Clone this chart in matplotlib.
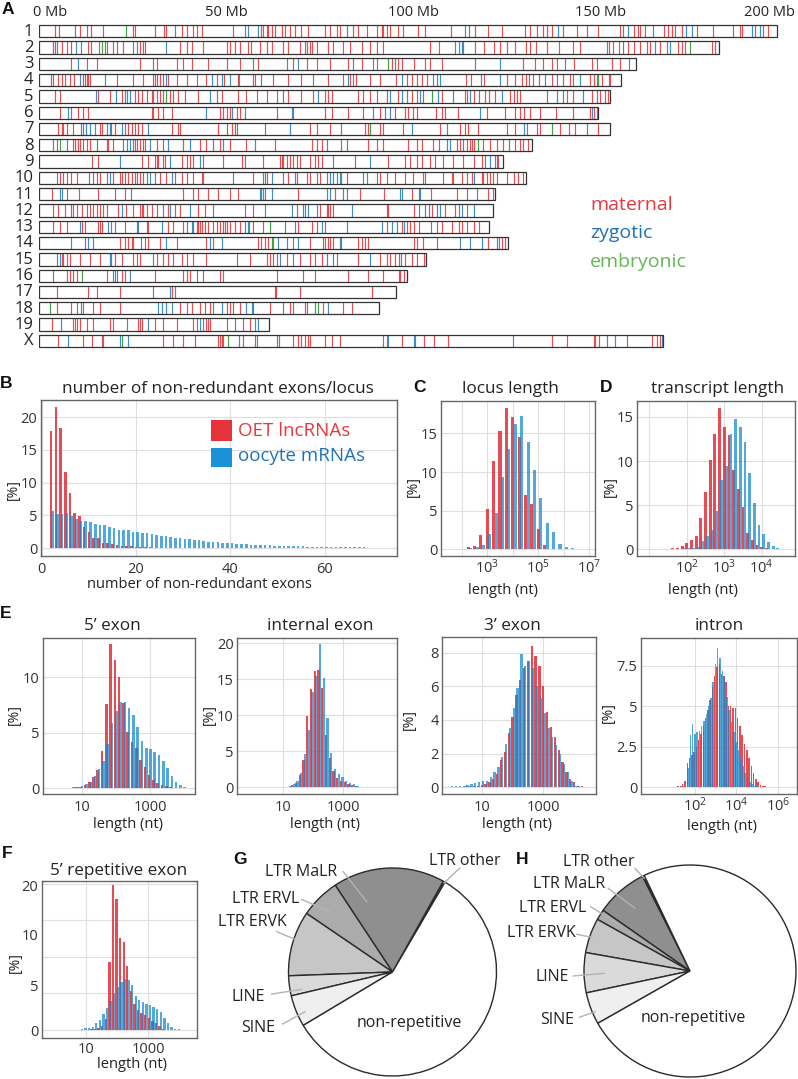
import numpy as np
import matplotlib
matplotlib.use('Agg')
import matplotlib.pyplot as plt
from matplotlib.patches import Rectangle

plt.rcParams['font.family'] = ['Open Sans', 'DejaVu Sans']
plt.rcParams['mathtext.fontset'] = 'custom'
plt.rcParams['mathtext.rm'] = 'Open Sans'
plt.rcParams['mathtext.it'] = 'Open Sans'
plt.rcParams['mathtext.bf'] = 'Open Sans'
plt.rcParams['text.color'] = '#222222'

# ---------------------------------------------------------------- data: panel A
chrom_names = ['1', '2', '3', '4', '5', '6', '7', '8', '9', '10', '11', '12', '13', '14',
               '15', '16', '17', '18', '19', 'X']
chrom_len_mb = [197.2, 181.7, 159.6, 155.6, 152.5, 149.5, 152.5, 131.7, 124.1, 130.0,
                121.8, 121.3, 120.3, 125.2, 103.5, 98.3, 95.3, 90.8, 61.3, 166.7]

chr1_maternal = [4.2, 5.3, 10.9, 12.8, 13.7, 17.1, 25.1, 25.6, 30.9, 33.3, 34.0, 38.1, 39.6, 41.2, 42.1, 43.4, 51.9, 59.2, 59.9, 60.8, 61.2, 62.1, 63.0, 64.8, 65.7, 67.0, 68.4, 70.1, 71.9, 76.4, 77.7, 79.5, 80.4, 84.0, 85.3, 87.5, 90.2, 91.5, 92.0, 92.9, 93.8, 96.0, 97.3, 101.3, 103.1, 110.0, 116.6, 119.9, 123.6, 129.9, 131.2, 133.0, 134.8, 135.7, 137.1, 140.1, 143.7, 146.4, 149.5, 155.3, 158.9, 160.2, 160.6, 162.0, 166.9, 168.2, 169.1, 170.0, 171.8, 175.8, 180.2, 187.4, 187.8, 191.4, 193.6, 194.9]
chr1_zygotic = [9.5, 36.3, 55.0, 55.9, 58.6, 82.2, 113.8, 115.0, 138.7, 156.1, 157.5, 164.2, 173.0, 174.4, 185.6, 190.5, 192.7]
chr1_embryonic = [23.2]
chr2_maternal = [4.2, 4.8, 6.0, 7.3, 8.6, 13.1, 13.7, 16.0, 18.0, 20.7, 22.5, 26.9, 27.8, 28.3, 37.6, 39.4, 40.7, 43.9, 50.1, 51.0, 52.3, 53.7, 55.9, 56.5, 59.0, 60.8, 62.1, 65.2, 66.6, 69.7, 71.0, 72.4, 72.8, 74.2, 77.3, 78.6, 81.3, 83.1, 86.2, 88.4, 90.2, 92.0, 104.5, 106.8, 116.6, 118.9, 121.5, 123.3, 125.1, 127.3, 130.0, 131.3, 132.7, 135.8, 138.9, 142.8, 144.6, 152.2, 153.5, 154.9, 157.5, 158.9, 160.6, 162.4, 163.3, 166.0, 167.8, 170.9, 171.8, 172.7, 179.8, 180.7]
chr2_zygotic = [3.7, 9.8, 11.1, 17.6, 19.8, 25.0, 26.0, 33.8, 71.5, 111.1, 112.2, 112.9, 113.4, 151.7, 156.2, 164.6, 168.7]
chr2_embryonic = [16.7, 174.0]
chr3_maternal = [8.6, 12.8, 15.3, 26.9, 31.4, 36.7, 38.3, 40.7, 45.2, 50.1, 53.7, 58.6, 67.9, 71.5, 74.2, 77.7, 82.6, 86.2, 89.3, 94.2, 96.0, 96.9, 100.1, 103.1, 104.5, 107.6, 129.4, 132.5, 134.8, 137.0, 138.4, 142.9, 147.8, 149.1, 153.1, 155.4]
chr3_zygotic = [10.4, 30.3, 66.1, 69.3, 84.0, 90.2, 95.1, 116.5, 123.2, 140.6, 157.6]
chr3_embryonic = [57.2, 93.3]
chr4_maternal = [3.7, 5.1, 6.0, 6.9, 8.2, 9.3, 11.8, 12.2, 12.7, 13.1, 13.5, 20.7, 25.0, 27.8, 30.3, 30.9, 31.4, 32.3, 33.2, 34.5, 36.7, 39.6, 42.1, 44.7, 47.4, 49.4, 53.2, 57.2, 57.7, 62.6, 66.6, 70.1, 77.3, 81.3, 83.1, 84.0, 84.8, 88.4, 91.1, 95.5, 98.3, 99.6, 101.0, 102.3, 103.6, 114.0, 115.3, 118.9, 125.1, 127.3, 129.1, 130.0, 130.9, 133.6, 137.1, 140.1, 142.0, 142.8, 147.3, 148.2, 149.1, 150.4, 152.2, 152.6]
chr4_zygotic = [10.9, 17.6, 34.0, 46.1, 48.8, 51.0, 53.5, 73.3, 82.6, 96.9, 105.4, 106.3, 107.2, 118.0, 123.3, 132.1, 135.2, 138.4, 144.7]
chr4_embryonic = [3.0, 59.4, 149.5]
chr5_maternal = [4.2, 5.5, 15.8, 18.9, 22.0, 25.6, 26.5, 27.4, 28.7, 30.0, 30.5, 31.4, 32.3, 33.2, 34.9, 35.8, 37.2, 38.9, 42.5, 48.8, 53.2, 55.4, 58.1, 60.8, 63.5, 66.6, 70.1, 73.3, 76.4, 77.3, 78.2, 85.3, 86.6, 88.4, 90.2, 92.9, 96.0, 99.6, 100.9, 102.7, 107.6, 113.8, 114.3, 116.1, 119.3, 120.2, 121.9, 125.9, 126.8, 127.7, 128.6, 141.0, 142.8, 147.7, 150.0, 151.2, 152.1]
chr5_zygotic = [15.2, 20.5, 22.9, 23.4, 24.2, 45.6, 47.4, 65.2, 74.6, 93.8, 96.9, 98.2, 101.8, 106.7, 110.7, 115.2, 117.5, 123.7, 138.4, 140.1, 145.5, 149.0]
chr5_embryonic = [34.0, 105.0, 135.7]
chr6_maternal = [5.5, 8.6, 10.4, 11.8, 13.1, 30.0, 30.5, 31.8, 33.2, 35.4, 48.3, 49.2, 50.1, 51.0, 52.8, 53.7, 63.5, 67.9, 76.4, 78.2, 82.6, 86.6, 91.1, 95.1, 97.8, 98.7, 100.0, 100.9, 106.2, 107.6, 108.5, 112.0, 119.6, 124.5, 127.3, 128.6, 129.5, 131.2, 133.9, 138.1, 142.8, 147.3, 148.2, 149.1]
chr6_zygotic = [7.8, 44.6, 51.4, 55.0, 67.5, 89.3, 92.4, 93.8, 117.8, 147.7]
chr6_embryonic = []
chr7_maternal = [5.1, 6.0, 6.4, 7.3, 9.1, 11.8, 16.2, 16.7, 19.3, 20.2, 22.9, 23.8, 24.7, 25.6, 26.5, 27.4, 35.4, 37.2, 37.6, 47.9, 51.4, 52.3, 72.4, 74.2, 77.7, 87.1, 88.0, 91.1, 92.0, 97.3, 107.1, 112.5, 113.8, 114.7, 117.4, 125.0, 127.3, 130.4, 133.0, 133.9, 139.3, 141.5, 143.3, 149.5]
chr7_zygotic = [11.1, 12.5, 13.5, 14.9, 18.0, 18.9, 22.0, 29.1, 60.3, 67.0, 80.8, 99.6, 129.5, 146.4]
chr7_embryonic = [50.1, 52.8, 88.4, 108.9, 137.0]
chr8_maternal = [4.6, 9.1, 9.5, 10.4, 10.9, 11.8, 12.7, 13.5, 18.0, 18.4, 19.8, 25.6, 26.0, 26.9, 27.8, 28.3, 31.4, 33.2, 38.5, 43.0, 44.7, 48.3, 51.0, 55.4, 63.0, 72.8, 74.2, 75.5, 80.8, 88.0, 90.2, 92.0, 98.7, 100.9, 102.3, 105.4, 106.8, 111.6, 112.5, 114.3, 115.2, 115.7, 116.1, 118.7, 120.5, 122.3, 124.1, 127.2, 128.5, 129.4, 130.8]
chr8_zygotic = [3.7, 7.3, 22.5, 23.4, 24.2, 25.1, 29.6, 34.5, 40.3, 46.5, 49.2, 57.7, 76.8, 82.2, 109.0, 109.9, 113.4]
chr8_embryonic = [5.5, 15.3, 117.2, 125.7]
chr9_maternal = [14.0, 15.8, 27.4, 29.1, 30.9, 31.4, 31.8, 33.2, 33.6, 38.1, 39.4, 40.3, 41.2, 43.9, 49.2, 54.1, 55.0, 59.9, 64.3, 64.8, 65.2, 66.1, 67.0, 67.9, 68.8, 69.7, 72.4, 73.7, 74.6, 75.5, 84.4, 93.3, 97.8, 99.1, 100.9, 102.2, 104.5, 105.8, 108.0, 110.7, 113.4, 116.1, 118.3, 122.7]
chr9_zygotic = [21.7, 34.9, 43.0, 78.6, 88.4, 119.2, 120.5, 121.9, 122.3]
chr9_embryonic = []
chr10_maternal = [5.5, 6.4, 7.3, 8.6, 10.0, 14.4, 15.3, 16.2, 18.0, 19.8, 21.6, 22.0, 22.9, 23.8, 24.7, 26.0, 26.9, 27.8, 32.3, 34.0, 36.3, 38.1, 39.4, 41.2, 43.4, 43.9, 57.2, 60.8, 65.2, 66.6, 68.8, 71.5, 72.4, 75.0, 76.8, 82.2, 90.2, 91.1, 92.9, 95.1, 97.8, 100.0, 102.7, 108.0, 110.3, 110.7, 112.9, 114.3, 115.6, 118.3, 118.7, 119.6, 120.5, 121.4, 122.3, 125.0, 126.8, 128.1, 129.3]
chr10_zygotic = [4.6, 18.9, 25.6, 28.7, 29.6, 30.9, 35.4, 51.9, 59.9, 62.1, 68.4, 77.7, 78.6, 79.5, 80.4, 86.6, 87.5, 116.1]
chr10_embryonic = [13.4, 60.4, 74.2, 80.8, 103.1]
chr11_maternal = [3.3, 7.3, 10.7, 15.8, 20.2, 22.9, 38.3, 41.2, 42.5, 45.2, 47.9, 51.0, 53.2, 69.1, 79.1, 85.7, 92.1, 99.6, 104.6, 111.7, 114.4, 120.1, 121.2]
chr11_zygotic = [5.5, 6.2, 24.4, 59.0, 59.4, 59.9, 60.3, 62.1, 76.8, 77.7, 81.3, 82.2, 96.5, 96.9, 101.4, 101.9, 117.0]
chr11_embryonic = []
chr12_maternal = [3.7, 5.1, 6.9, 8.6, 10.0, 11.3, 13.5, 14.4, 15.3, 16.2, 17.1, 18.0, 21.1, 23.2, 25.1, 26.9, 27.4, 27.8, 28.7, 30.0, 31.4, 34.5, 36.3, 37.6, 42.5, 44.3, 55.0, 57.2, 68.8, 75.0, 76.8, 77.3, 77.7, 78.6, 93.0, 93.3, 100.1, 105.0, 108.6, 111.2, 112.1]
chr12_zygotic = [9.1, 12.8, 22.0, 33.2, 34.9, 40.3, 46.5, 60.3, 67.5, 70.6, 71.0, 71.9, 74.2, 83.5, 101.4, 103.2, 104.1, 106.3, 107.2, 113.0, 114.4, 116.1]
chr12_embryonic = []
chr13_maternal = [3.7, 5.5, 7.3, 11.3, 12.2, 15.8, 16.2, 16.7, 19.3, 22.9, 26.0, 29.1, 34.5, 35.8, 38.5, 42.1, 42.5, 43.0, 43.4, 44.3, 45.2, 46.5, 47.4, 48.3, 49.2, 49.6, 50.1, 51.0, 52.3, 53.7, 57.2, 59.9, 69.3, 72.8, 74.2, 76.4, 92.9, 96.9, 98.3, 99.2, 100.1, 101.4, 106.3, 107.7, 110.3, 112.1, 113.0, 114.4, 116.1, 117.5]
chr13_zygotic = [10.9, 18.4, 20.2, 26.5, 28.7, 32.7, 39.4, 40.7, 41.2, 55.0, 55.9, 68.4, 75.5, 82.2, 91.6, 94.2, 95.6, 97.5, 104.6]
chr13_embryonic = [56.1, 61.7, 65.7]
chr14_maternal = [12.2, 21.6, 22.9, 23.8, 24.7, 25.1, 28.3, 29.1, 32.3, 36.7, 44.7, 46.5, 58.6, 59.4, 60.3, 61.2, 62.6, 67.9, 72.4, 76.4, 77.3, 77.7, 78.6, 80.8, 85.3, 86.2, 87.1, 88.0, 100.1, 101.0, 102.5, 106.3, 120.1, 123.7, 124.6]
chr14_zygotic = [8.4, 13.1, 14.4, 27.1, 34.0, 45.6, 48.8, 63.9, 66.1, 69.3, 80.4, 112.5, 115.2, 118.3, 122.4, 122.8]
chr14_embryonic = [62.1, 75.9]
chr15_maternal = [6.0, 6.4, 7.3, 8.2, 10.9, 13.5, 16.2, 20.2, 22.0, 25.1, 26.0, 26.9, 31.4, 33.2, 34.5, 35.8, 38.1, 39.4, 41.2, 44.7, 56.3, 60.8, 61.7, 62.6, 63.5, 66.1, 69.7, 72.4, 73.7, 75.5, 79.5, 85.3, 91.1, 92.9, 93.9, 95.2, 96.1, 97.9, 99.6, 101.0, 102.8]
chr15_zygotic = [4.6, 5.5, 18.9, 19.3, 30.5, 52.8, 64.3, 67.9, 76.8, 78.6, 88.4, 96.6]
chr15_embryonic = []
chr16_maternal = [7.3, 8.2, 9.1, 10.0, 18.0, 22.0, 22.9, 30.9, 38.5, 39.4, 40.3, 43.9, 48.3, 49.2, 63.5, 70.6, 73.7, 82.6, 88.0, 91.8, 96.1, 96.5, 97.4]
chr16_zygotic = [3.7, 19.8, 20.2, 20.7, 24.2, 42.1]
chr16_embryonic = [11.3]
chr17_maternal = [4.6, 13.1, 15.3, 21.6, 35.4, 63.0, 63.3, 69.7, 88.9]
chr17_zygotic = [30.5, 34.9, 36.3]
chr17_embryonic = []
chr18_maternal = [4.6, 8.6, 11.8, 14.4, 16.2, 21.6, 37.6, 39.4, 40.7, 43.0, 44.3, 45.6, 50.1, 51.0, 51.9, 53.7, 61.7, 67.0, 67.9, 71.0, 75.9, 81.3, 83.5]
chr18_zygotic = [10.2, 11.1, 31.8, 32.7, 34.0, 35.4, 46.5, 48.8, 55.4, 56.8, 57.2, 71.5, 73.7, 77.3]
chr18_embryonic = [2.9, 65.2, 74.6]
chr19_maternal = [3.3, 8.9, 9.5, 10.0, 10.9, 12.7, 14.3, 18.9, 19.8, 26.5, 26.9, 27.4, 30.9, 33.2, 36.7, 41.2, 42.1, 44.7, 45.2, 45.6, 50.1, 54.5, 56.3]
chr19_zygotic = [5.7, 29.1, 43.0, 43.9, 52.3, 57.7, 58.6]
chr19_embryonic = [23.4]
chrX_maternal = [5.1, 11.8, 14.0, 16.7, 33.2, 35.8, 38.5, 41.6, 47.9, 48.3, 48.8, 49.2, 54.4, 57.7, 63.5, 67.9, 69.3, 70.1, 71.0, 71.9, 72.4, 76.4, 78.2, 80.4, 92.0, 92.9, 96.9, 102.8, 105.5, 109.4, 137.1, 141.2, 148.2, 148.7, 149.6, 163.8, 165.2, 166.0]
chrX_zygotic = [7.8, 16.9, 21.6, 23.8, 53.5, 58.1, 64.2, 93.3, 100.1, 126.6, 151.8, 154.0, 157.1, 166.4]
chrX_embryonic = [22.0, 50.4, 100.5]

axis_mb_ticks = [0, 50, 100, 150, 200]
axis_mb_labels = ['0 Mb', '50 Mb', '100 Mb', '150 Mb', '200 Mb']

# ---------------------------------------------------------------- data: panel B
b_lnc_exons = list(range(2, 26))
b_lnc_pct = [17.8, 21.6, 18.3, 11.6, 8.4, 5.3, 4.9, 3.3, 2.5, 1.5, 1.6, 0.8, 0.8, 0.6, 0.5,
             0.4, 0.3, 0.25, 0.2, 0.15, 0.1, 0.1, 0.05, 0.05]
b_mrna_exons = list(range(2, 76))
b_mrna_pct = [5.7, 5.2, 5.2, 5.4, 4.9, 4.5, 4.2, 4.1, 4.0, 3.7,
              3.6, 3.5, 3.2, 3.0, 2.8, 2.7, 2.7, 2.5, 2.4, 2.3,
              2.3, 2.1, 2.0, 1.9, 1.8, 1.7, 1.6, 1.5, 1.4, 1.35,
              1.3, 1.2, 1.1, 1.0, 0.95, 0.9, 0.85, 0.8, 0.75, 0.7,
              0.65, 0.6, 0.55, 0.52, 0.5, 0.46, 0.43, 0.4, 0.38, 0.35,
              0.32, 0.3, 0.28, 0.26, 0.24, 0.22, 0.2, 0.19, 0.18, 0.16,
              0.15, 0.14, 0.13, 0.12, 0.11, 0.1, 0.1, 0.09, 0.08, 0.08,
              0.07, 0.07, 0.06, 0.06]

# ---------------------------------------------------------------- data: panel C (log10 nt)
c_log_len = [1.75, 2.0, 2.25, 2.5, 2.75, 3.0, 3.25, 3.5, 3.75, 4.0, 4.25, 4.5, 4.75, 5.0,
             5.25, 5.5, 5.75, 6.0, 6.25, 6.5, 6.75]
c_lnc_pct = [0.05, 0.1, 0.35, 0.45, 1.9, 5.2, 11.4, 15.3, 18.3, 17.1, 14.6, 7.0, 5.8, 2.6,
             0.55, 0.1, 0.05, 0.0, 0.0, 0.0, 0.0]
c_mrna_pct = [0.05, 0.1, 0.15, 0.3, 0.6, 2.0, 4.7, 9.3, 13.0, 16.2, 17.2, 13.9, 10.3, 6.7,
              3.4, 2.2, 0.65, 0.3, 0.15, 0.05, 0.03]

# ---------------------------------------------------------------- data: panel D
d_log_len = [1.0, 1.125, 1.25, 1.375, 1.5, 1.625, 1.75, 1.875, 2.0, 2.125, 2.25, 2.375,
             2.5, 2.625, 2.75, 2.875, 3.0, 3.125, 3.25, 3.375, 3.5, 3.625, 3.75, 3.875,
             4.0, 4.125, 4.25, 4.375, 4.5, 4.625]
d_lnc_pct = [0.0, 0.0, 0.0, 0.0, 0.05, 0.1, 0.2, 0.4, 0.75, 1.05, 1.5, 3.6, 6.5, 10.1, 13.1,
             16.0, 13.9, 13.0, 9.0, 6.8, 4.8, 1.9, 1.05, 0.5, 0.3, 0.15, 0.05, 0.0, 0.0, 0.0]
d_mrna_pct = [0.05, 0.05, 0.05, 0.05, 0.05, 0.05, 0.05, 0.1, 0.1, 0.2, 0.3, 0.9, 1.45, 2.2,
              4.3, 7.8, 9.4, 13.1, 14.8, 13.8, 12.2, 8.6, 5.2, 2.8, 1.7, 0.85, 0.4, 0.15,
              0.05, 0.02]

# ---------------------------------------------------------------- data: panel E
e5_log_len = [0.5, 0.625, 0.75, 0.875, 1.0, 1.125, 1.25, 1.375, 1.5, 1.625, 1.75, 1.875,
              2.0, 2.125, 2.25, 2.375, 2.5, 2.625, 2.75, 2.875, 3.0, 3.125, 3.25, 3.375,
              3.5, 3.625, 3.75, 3.875, 4.0, 4.125]
e5_lnc_pct = [0.05, 0.05, 0.05, 0.1, 0.15, 0.3, 0.6, 1.05, 1.65, 3.4, 7.6, 13.0, 11.6, 10.0,
              7.7, 5.1, 4.2, 3.6, 2.55, 1.95, 1.2, 0.75, 0.5, 0.3, 0.2, 0.1, 0.05, 0.05,
              0.0, 0.05]
e5_mrna_pct = [0.0, 0.05, 0.1, 0.15, 0.2, 0.35, 0.6, 1.1, 1.7, 2.5, 4.0, 5.9, 7.0, 7.8, 7.8,
               7.2, 6.6, 5.5, 4.3, 3.6, 3.5, 3.3, 3.0, 2.5, 1.8, 1.1, 0.6, 0.3, 0.15, 0.05]

ei_log_len = [0.55, 0.675, 0.8, 0.925, 1.05, 1.175, 1.3, 1.425, 1.55, 1.675, 1.8, 1.925,
              2.05, 2.175, 2.3, 2.425, 2.55, 2.675, 2.8, 2.925, 3.05, 3.175, 3.3, 3.425,
              3.55, 3.675]
ei_lnc_pct = [0.0, 0.05, 0.05, 0.05, 0.05, 0.1, 0.3, 0.65, 1.7, 3.8, 9.9, 13.6, 16.1, 16.3,
              13.7, 7.2, 4.0, 2.2, 1.25, 0.9, 0.8, 0.5, 0.35, 0.2, 0.1, 0.05]
ei_mrna_pct = [0.05, 0.05, 0.05, 0.1, 0.1, 0.15, 0.4, 0.9, 2.0, 4.6, 8.0, 13.2, 15.4, 19.9,
               15.2, 9.6, 4.7, 2.6, 1.8, 1.4, 0.9, 0.6, 0.4, 0.2, 0.1, 0.05]

e3_log_len = [0.0, 0.125, 0.25, 0.375, 0.5, 0.625, 0.75, 0.875, 1.0, 1.125, 1.25, 1.375,
              1.5, 1.625, 1.75, 1.875, 2.0, 2.125, 2.25, 2.375, 2.5, 2.625, 2.75, 2.875,
              3.0, 3.125, 3.25, 3.375, 3.5, 3.625, 3.75, 3.875, 4.0, 4.125, 4.25]
e3_lnc_pct = [0.02, 0.02, 0.03, 0.03, 0.05, 0.05, 0.1, 0.1, 0.15, 0.2, 0.3, 0.5, 0.8, 1.6,
              2.1, 3.2, 4.2, 5.5, 6.4, 7.1, 7.5, 8.4, 7.8, 7.2, 6.0, 4.5, 3.6, 3.0, 2.2,
              1.5, 0.9, 0.5, 0.3, 0.1, 0.05]
e3_mrna_pct = [0.05, 0.05, 0.1, 0.1, 0.15, 0.2, 0.25, 0.3, 0.35, 0.35, 0.6, 0.9, 1.2, 1.8,
               2.6, 3.5, 4.7, 5.9, 7.9, 7.2, 7.5, 7.1, 6.0, 5.3, 4.4, 3.5, 3.0, 2.5, 2.0,
               1.4, 0.9, 0.35, 0.1, 0.05, 0.02]

intron_log_len = [1.2, 1.31, 1.42, 1.53, 1.64, 1.75, 1.86, 1.97, 2.08, 2.19, 2.3, 2.41,
                  2.52, 2.63, 2.74, 2.85, 2.96, 3.07, 3.18, 3.29, 3.4, 3.51, 3.62, 3.73,
                  3.84, 3.95, 4.06, 4.17, 4.28, 4.39, 4.5, 4.61, 4.72, 4.83, 4.94, 5.05,
                  5.16, 5.27, 5.38]
intron_lnc_pct = [0.05, 0.1, 0.2, 0.4, 1.5, 1.8, 2.0, 2.2, 2.5, 2.9, 3.3, 3.8, 4.3, 4.8, 5.4,
                  6.2, 6.9, 7.4, 7.6, 7.0, 6.9, 6.5, 5.0, 5.0, 4.9, 4.9, 4.3, 3.8, 3.2, 2.7,
                  2.3, 1.8, 1.3, 0.9, 0.5, 0.3, 0.15, 0.1, 0.05]
intron_mrna_pct = [0.02, 0.05, 0.1, 0.3, 1.2, 3.2, 3.9, 3.3, 3.4, 3.5, 3.8, 4.1, 4.5, 5.0,
                   5.5, 6.5, 7.6, 8.6, 8.0, 7.2, 6.8, 5.6, 4.8, 4.0, 3.4, 2.8, 2.3, 1.8,
                   1.3, 0.9, 0.6, 0.35, 0.2, 0.1, 0.05, 0.03, 0.02, 0.01, 0.01]

# ---------------------------------------------------------------- data: panel F
f_log_len = [0.6, 0.715, 0.83, 0.945, 1.06, 1.175, 1.29, 1.405, 1.52, 1.635, 1.75, 1.865,
             1.98, 2.095, 2.21, 2.325, 2.44, 2.555, 2.67, 2.785, 2.9, 3.015, 3.13, 3.245,
             3.36, 3.475, 3.59, 3.705, 3.82, 3.935, 4.05]
f_lnc_pct = [0.0, 0.0, 0.0, 0.05, 0.05, 0.1, 0.2, 0.3, 0.5, 1.5, 9.3, 19.8, 17.9, 12.6, 12.0,
             8.7, 5.3, 3.5, 2.8, 2.3, 2.0, 1.6, 1.3, 0.9, 0.5, 0.2, 0.05, 0.0, 0.0, 0.0, 0.0]
f_mrna_pct = [0.05, 0.05, 0.1, 0.25, 0.3, 0.4, 0.9, 1.4, 2.2, 3.0, 3.9, 5.1, 5.9, 6.6, 7.0,
              6.8, 6.2, 4.6, 4.1, 3.8, 3.5, 3.4, 3.2, 2.9, 2.4, 1.6, 0.9, 0.4, 0.2, 0.1, 0.05]

# ---------------------------------------------------------------- data: panels G, H
repeat_classes = ['LTR other', 'LTR MaLR', 'LTR ERVL', 'LTR ERVK', 'LINE', 'SINE',
                  'non-repetitive']
g_pct = [0.3, 17.4, 6.2, 10.1, 3.1, 4.9, 58.0]
h_pct = [0.3, 7.9, 1.6, 5.3, 6.1, 4.9, 73.9]

# ================================================================ drawing
W, H = 798, 1079
fig = plt.figure(figsize=(W / 100, H / 100), dpi=100)
fig.patch.set_facecolor('white')

RED = '#e5323b'
BLUE = '#1088cf'
RED_A = 0.88
BLUE_A = 0.72
MAT_C = '#e8383d'
ZYG_C = '#2a80c0'
EMB_C = '#3da548'


def add_ax(l, t, r, b):
    return fig.add_axes([l / W, 1 - b / H, (r - l) / W, (b - t) / H])


def ftext(x, y, s, **kw):
    return fig.text(x / W, 1 - y / H, s, **kw)


# ---------------- panel A
axA = add_ax(39.3, 19.8, 795, 352.3)
axA.set_xlim(0, (795 - 39.3) / 3.74)
axA.set_ylim(19.7, -0.7)
axA.axis('off')
mat_all = [chr1_maternal, chr2_maternal, chr3_maternal, chr4_maternal, chr5_maternal,
           chr6_maternal, chr7_maternal, chr8_maternal, chr9_maternal, chr10_maternal,
           chr11_maternal, chr12_maternal, chr13_maternal, chr14_maternal, chr15_maternal,
           chr16_maternal, chr17_maternal, chr18_maternal, chr19_maternal, chrX_maternal]
zyg_all = [chr1_zygotic, chr2_zygotic, chr3_zygotic, chr4_zygotic, chr5_zygotic,
           chr6_zygotic, chr7_zygotic, chr8_zygotic, chr9_zygotic, chr10_zygotic,
           chr11_zygotic, chr12_zygotic, chr13_zygotic, chr14_zygotic, chr15_zygotic,
           chr16_zygotic, chr17_zygotic, chr18_zygotic, chr19_zygotic, chrX_zygotic]
emb_all = [chr1_embryonic, chr2_embryonic, chr3_embryonic, chr4_embryonic, chr5_embryonic,
           chr6_embryonic, chr7_embryonic, chr8_embryonic, chr9_embryonic, chr10_embryonic,
           chr11_embryonic, chr12_embryonic, chr13_embryonic, chr14_embryonic,
           chr15_embryonic, chr16_embryonic, chr17_embryonic, chr18_embryonic,
           chr19_embryonic, chrX_embryonic]
hh = 0.377
for i, (name, L) in enumerate(zip(chrom_names, chrom_len_mb)):
    axA.add_patch(Rectangle((0, i - hh), L, 2 * hh, facecolor='white', edgecolor='none',
                            zorder=1))
    if mat_all[i]:
        axA.vlines(mat_all[i], i - hh, i + hh, colors=MAT_C, lw=0.85, alpha=0.9, zorder=2)
    if zyg_all[i]:
        axA.vlines(zyg_all[i], i - hh, i + hh, colors=ZYG_C, lw=0.85, alpha=0.9, zorder=3)
    if emb_all[i]:
        axA.vlines(emb_all[i], i - hh, i + hh, colors=EMB_C, lw=0.85, zorder=4)
    axA.add_patch(Rectangle((0, i - hh), L, 2 * hh, facecolor='none', edgecolor='#333333',
                            lw=0.9, zorder=5))
    axA.text(-1.6, i + 0.02, name, ha='right', va='center', fontsize=12, color='#222')
for t, lab in zip(axis_mb_ticks, axis_mb_labels):
    ha = 'center'
    xx = t
    if t == 0:
        ha, xx = 'left', -1.6
    if t == 200:
        ha, xx = 'right', 202.0
    axA.text(xx, -1.17, lab, ha=ha, va='center', fontsize=10.5, color='#222', clip_on=False)
axA.text(147.3, 10.67, 'maternal', color=MAT_C, fontsize=14, va='center', ha='left')
axA.text(147.3, 12.4, 'zygotic', color='#1f72b8', fontsize=14, va='center', ha='left')
axA.text(147.3, 14.15, 'embryonic', color='#62b853', fontsize=14, va='center', ha='left')


# ---------------- histogram helper
def style_ax(ax, xlim, ylim, xticks, xlabels, yticks, ylabels, xgrid=None, ygrid=None,
             xpad=4):
    ax.set_xlim(*xlim)
    ax.set_ylim(*ylim)
    ax.set_xticks(xticks)
    ax.set_xticklabels(xlabels)
    ax.set_yticks(yticks)
    ax.set_yticklabels(ylabels)
    ax.tick_params(axis='both', length=0, labelsize=10.5, colors='#333333')
    ax.tick_params(axis='x', pad=xpad)
    ax.tick_params(axis='y', pad=2.5)
    for s in ax.spines.values():
        s.set_color('#666666')
        s.set_linewidth(1.0)
    gkw = dict(color='#dedede', lw=0.8, zorder=0)
    for gx in (xgrid if xgrid is not None else xticks):
        ax.axvline(gx, **gkw)
    for gy in (ygrid if ygrid is not None else yticks):
        ax.axhline(gy, **gkw)


def bars(ax, x, red, blue, width, off):
    x = np.asarray(x, dtype=float)
    ax.bar(x, red, width=width, color=RED, alpha=RED_A, lw=0, zorder=2)
    ax.bar(x + off, blue, width=width, color=BLUE, alpha=BLUE_A, lw=0, zorder=3)


def p10(e):
    return r'$10^{%d}$' % e


# ---------------- panel B
axB = add_ax(40.7, 400, 397, 556)
axB.bar(np.asarray(b_lnc_exons, float), b_lnc_pct, width=0.55, color=RED, alpha=RED_A,
        lw=0, zorder=2)
axB.bar(np.asarray(b_mrna_exons, float) + 0.35, b_mrna_pct, width=0.55, color=BLUE,
        alpha=BLUE_A, lw=0, zorder=3)
style_ax(axB, (-0.2, 75.3), (-1.2, 22.6), [0, 20, 40, 60], ['0', '20', '40', '60'],
         [0, 5, 10, 15, 20], ['0', '5', '10', '15', '20'])
axB.add_patch(Rectangle((0.478, 0.735), 0.06, 0.137, transform=axB.transAxes,
                        facecolor=RED, edgecolor='none', zorder=6))
axB.add_patch(Rectangle((0.478, 0.570), 0.06, 0.125, transform=axB.transAxes,
                        facecolor='#1a93d6', edgecolor='none', zorder=6))
axB.text(0.555, 0.80, 'OET lncRNAs', transform=axB.transAxes, color=MAT_C, fontsize=13.5,
         va='center', ha='left', zorder=7)
axB.text(0.555, 0.64, 'oocyte mRNAs', transform=axB.transAxes, color='#1f72b8',
         fontsize=13.5, va='center', ha='left', zorder=7)

# ---------------- panel C
axC = add_ax(440.7, 401, 595, 556)
bars(axC, c_log_len, c_lnc_pct, c_mrna_pct, 0.12, 0.1)
style_ax(axC, (1.18, 7.22), (-0.87, 19.2), [3, 5, 7], [p10(3), p10(5), p10(7)],
         [0, 5, 10, 15], ['0', '5', '10', '15'], xgrid=[2, 3, 4, 5, 6, 7], xpad=2)

# ---------------- panel D
axD = add_ax(637, 401, 795, 556)
bars(axD, d_log_len, d_lnc_pct, d_mrna_pct, 0.075, 0.055)
style_ax(axD, (0.67, 4.89), (-0.76, 16.8), [2, 3, 4], [p10(2), p10(3), p10(4)],
         [0, 5, 10, 15], ['0', '5', '10', '15'], xgrid=[1, 2, 3, 4], xpad=2)

# ---------------- panel E
axE1 = add_ax(43, 638, 195, 794)
bars(axE1, np.asarray(e5_log_len) - 0.03, e5_lnc_pct, e5_mrna_pct, 0.075, 0.04)
style_ax(axE1, (-0.13, 4.31), (-0.51, 13.54), [1, 3], ['10', '1000'],
         [0, 5, 10], ['0', '5', '10'])

axE2 = add_ax(237, 638, 397, 794)
bars(axE2, ei_log_len, ei_lnc_pct, ei_mrna_pct, 0.075, 0.05)
style_ax(axE2, (-0.54, 4.79), (-0.93, 20.7), [1, 3], ['10', '1000'],
         [0, 5, 10, 15, 20], ['0', '5', '10', '15', '20'])

axE3 = add_ax(442.3, 637.3, 596, 794)
bars(axE3, e3_log_len, e3_lnc_pct, e3_mrna_pct, 0.075, 0.04)
style_ax(axE3, (-0.28, 4.71), (-0.4, 8.91), [1, 3], ['10', '1000'],
         [0, 2, 4, 6, 8], ['0', '2', '4', '6', '8'])

axE4 = add_ax(640.7, 638.3, 796.7, 794)
bars(axE4, intron_log_len, intron_lnc_pct, intron_mrna_pct, 0.07, 0.035)
style_ax(axE4, (-0.6, 6.9), (-0.42, 9.2), [2, 4, 6], [p10(2), p10(4), p10(6)],
         [0, 2.5, 5, 7.5], ['0', '2.5', '5', '7.5'], xpad=2)

# ---------------- panel F
axF = add_ax(41.7, 880.7, 196.7, 1038.3)
bars(axF, f_log_len, f_lnc_pct, f_mrna_pct, 0.075, 0.04)
style_ax(axF, (-0.42, 4.55), (-1.13, 20.4), [1, 3], ['10', '1000'],
         [0, 6.1, 13.1, 19.8], ['0', '5', '10', '20'], ygrid=[0, 5, 10, 15, 20], xpad=3)

# ---------------- titles, labels
tkw = dict(ha='center', va='center', fontsize=12.3, color='#222')
ftext(218, 389, 'number of non-redundant exons/locus', **tkw)
ftext(510, 389, 'locus length', **tkw)
ftext(718, 389, 'transcript length', **tkw)
ftext(112, 626, '5\u2019 exon', **tkw)
ftext(320, 626, 'internal exon', **tkw)
ftext(512, 626, '3\u2019 exon', **tkw)
ftext(719, 626, 'intron', **tkw)
ftext(119, 871, '5\u2019 repetitive exon', **tkw)

xkw = dict(ha='center', va='center', fontsize=10.5, color='#222')
ftext(199, 584, 'number of non-redundant exons', **xkw)
ftext(503, 590, 'length (nt)', **xkw)
ftext(703, 590, 'length (nt)', **xkw)
ftext(128, 824, 'length (nt)', **xkw)
ftext(325, 824, 'length (nt)', **xkw)
ftext(517, 824, 'length (nt)', **xkw)
ftext(722, 827, 'length (nt)', **xkw)
ftext(132, 1064, 'length (nt)', **xkw)

ykw = dict(ha='center', va='center', fontsize=10, rotation=90, color='#222')
for (x, y) in [(13, 490), (413, 487), (610, 487), (14, 715), (209, 715), (409, 720),
               (608, 713), (15, 963)]:
    ftext(x, y, '[%]', **ykw)

lkw = dict(ha='center', va='center', fontsize=12.5, fontweight='bold',
           family='Liberation Sans', color='#111')
for (x, y, s) in [(8, 9, 'A'), (6, 384, 'B'), (420, 387, 'C'), (606, 387, 'D'),
                  (6, 613, 'E'), (7, 853, 'F'), (240, 860, 'G'), (522, 860, 'H')]:
    ftext(x, y, s, **lkw)

# ---------------- pies
PIE_COLORS = ['#4a4a4a', '#8f8f8f', '#ababab', '#c6c6c6', '#dadada', '#efefef', '#ffffff']


def pie_panel(cx, cy, r, values, start, text_xy, leaders, nonrep_xy):
    m = 1.03
    ax = add_ax(cx - m * r, cy - m * r, cx + m * r, cy + m * r)
    ax.pie(values, startangle=start, counterclock=True, colors=PIE_COLORS, radius=1,
           wedgeprops=dict(edgecolor='#2a2a2a', linewidth=1.0))
    ax.set_xlim(-m, m)
    ax.set_ylim(-m, m)
    ax.set_aspect('auto')
    for lab, (tx, ty), ((x0, y0), (x1, y1)) in zip(repeat_classes[:6], text_xy, leaders):
        ax.plot([x0, x1], [y0, y1], color='#b3b3b3', lw=1.0, clip_on=False, zorder=6)
        ax.text(tx, ty, lab, ha='center', va='center', fontsize=11.5, color='#222',
                zorder=7)
    ax.text(nonrep_xy[0], nonrep_xy[1], repeat_classes[6], ha='center', va='center',
            fontsize=11.5, color='#222', zorder=7)
    return ax


g_text = [(0.697, 1.067), (-0.880, 0.962), (-1.216, 0.702), (-1.351, 0.481),
          (-1.385, -0.240), (-1.288, -0.538)]
g_lead = [((0.647, 0.999), (0.495, 0.856)), ((-0.473, 0.964), (-0.248, 0.676)),
          ((-0.873, 0.697), (-0.601, 0.580)), ((-1.113, 0.388), (-0.938, 0.314)),
          ((-1.162, -0.212), (-0.873, -0.167)), ((-1.056, -0.5), (-0.841, -0.382))]
pie_panel(392.5, 972, 104, g_pct, 59.7, g_text, g_lead, (0.159, -0.493))

h_text = [(-0.858, 1.028), (-1.142, 0.825), (-1.292, 0.590), (-1.406, 0.354),
          (-1.297, -0.052), (-1.255, -0.462)]
h_lead = [((-0.519, 0.969), (-0.431, 0.875)), ((-0.771, 0.780), (-0.519, 0.592)),
          ((-0.937, 0.607), (-0.676, 0.443)), ((-1.069, 0.346), (-0.927, 0.318)),
          ((-1.101, -0.047), (-0.811, -0.022)), ((-1.044, -0.437), (-0.896, -0.384))]
pie_panel(690, 971, 106, h_pct, 115.6, h_text, h_lead, (0.033, -0.448))

fig.savefig('out.png', dpi=100, facecolor='white')
